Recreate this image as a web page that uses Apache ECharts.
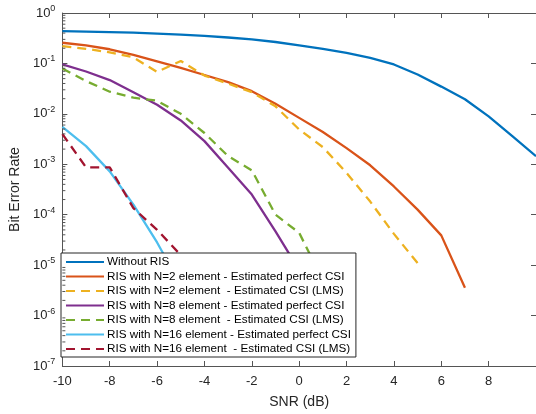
<!DOCTYPE html>
<html>
<head>
<meta charset="utf-8">
<script src="https://cdn.jsdelivr.net/npm/echarts@6/dist/echarts.min.js"></script>
<style>
html,body{margin:0;padding:0;background:#fff;}
#chart{width:536px;height:414px;}
</style>
</head>
<body>
<div id="chart"></div>
<script>
// SNR (dB) sample points
const snr = [-10, -9, -8, -7, -6, -5, -4, -3, -2, -1, 0, 1, 2, 3, 4, 5, 6, 7, 8, 9, 10];

// Bit error rate values
const berWithoutRIS = [0.437, 0.427, 0.417, 0.407, 0.389, 0.372, 0.351, 0.327, 0.299, 0.266, 0.229,
  0.195, 0.162, 0.129, 0.0955, 0.0603, 0.0347, 0.0195, 0.0089, 0.00363, 0.00145];
const berN2Perfect = [0.257, 0.229, 0.191, 0.148, 0.110, 0.0813, 0.0589, 0.0427, 0.0282, 0.0158, 0.00832,
  0.00437, 0.00209, 9.55e-4, 3.63e-4, 1.26e-4, 3.89e-5, 3.55e-6];
const berN2LMS = [0.221, 0.195, 0.166, 0.132, 0.0676, 0.112, 0.0575, 0.0398, 0.0269, 0.0141, 0.0049,
  0.00219, 6.76e-4, 1.82e-4, 4.17e-5, 1.10e-5];
const berN8Perfect = [0.0955, 0.0692, 0.0468, 0.0269, 0.0151, 0.00741, 0.00288, 8.51e-4, 2.51e-4, 4.68e-5, 7.94e-6];
const berN8LMS = [0.0794, 0.0447, 0.0275, 0.0209, 0.0182, 0.0100, 0.00417, 0.00145, 7.59e-4, 1.0e-4, 4.37e-5, 5.0e-6];
const berN16Perfect = [0.0055, 0.00229, 7.24e-4, 1.58e-4, 2.82e-5, 4.0e-6];
const berN16LMS = [0.00398, 8.71e-4, 8.71e-4, 1.35e-4, 5.01e-5, 1.58e-5];

// minor tick values of the log axis (2..9 x 10^k)
const minorTickValues = [];
[-7, -6, -5, -4, -3, -2, -1].forEach(k => {
  [2, 3, 4, 5, 6, 7, 8, 9].forEach(m => minorTickValues.push(m * Math.pow(10, k)));
});

const seriesNames = [
  'Without RIS',
  'RIS with N=2 element - Estimated perfect CSI',
  'RIS with N=2 element  - Estimated CSI (LMS)',
  'RIS with N=8 element - Estimated perfect CSI',
  'RIS with N=8 element  - Estimated CSI (LMS)',
  'RIS with N=16 element - Estimated perfect CSI',
  'RIS with N=16 element  - Estimated CSI (LMS)'
];
const seriesValues = [berWithoutRIS, berN2Perfect, berN2LMS, berN8Perfect, berN8LMS, berN16Perfect, berN16LMS];
const seriesColors = ['#0072BD', '#D95319', '#EDB120', '#7E2F8E', '#77AC30', '#4DBEEE', '#A2142F'];
const seriesDashed = [false, false, true, false, true, false, true];

const axisColor = '#262626';
const frameColor = '#555555';
const font = 'Liberation Sans, Arial, Helvetica, sans-serif';

const chart = echarts.init(document.getElementById('chart'), null, {renderer: 'canvas'});

const series = seriesNames.map((name, i) => ({
  name: name,
  type: 'line',
  xAxisIndex: 0,
  yAxisIndex: 0,
  data: seriesValues[i].map((v, k) => [snr[k], v]),
  showSymbol: false,
  symbol: 'none',
  smooth: false,
  clip: true,
  lineStyle: {
    color: seriesColors[i],
    width: 2.3,
    type: seriesDashed[i] ? [9, 6] : 'solid'
  },
  itemStyle: {color: seriesColors[i]},
  emphasis: {disabled: true}
}));

// minor ticks on the left log axis
series.push({
  name: 'minorTicks',
  type: 'custom',
  xAxisIndex: 0,
  yAxisIndex: 0,
  silent: true,
  clip: false,
  z: 5,
  data: minorTickValues.map(v => [-10, v]),
  renderItem: function (params, api) {
    const p = api.coord([api.value(0), api.value(1)]);
    return {
      type: 'line',
      shape: {x1: p[0], y1: p[1], x2: p[0] + 3, y2: p[1]},
      style: {stroke: frameColor, lineWidth: 1}
    };
  }
});

function expLabel(v) {
  const e = Math.round(Math.log10(v));
  return '{b|10}{s|' + e + '}';
}

const option = {
  animation: false,
  backgroundColor: '#ffffff',
  textStyle: {fontFamily: font},
  grid: {left: 58, top: 13, right: -4, bottom: 41, containLabel: false},
  legend: {
    orient: 'vertical',
    left: 61,
    top: 253,
    width: 300,
    backgroundColor: '#ffffff',
    borderColor: axisColor,
    borderWidth: 1,
    padding: [3, 5, 2, 4],
    itemWidth: 38,
    itemHeight: 14,
    itemGap: 2.5,
    itemStyle: {opacity: 0},
    textStyle: {fontFamily: font, fontSize: 11.7, color: '#000', padding: [0, 0, 0, -2]},
    data: seriesNames
  },
  xAxis: [{
    type: 'value',
    position: 'bottom',
    min: -10,
    max: 10,
    interval: 2,
    name: 'SNR (dB)',
    nameLocation: 'middle',
    nameGap: 29,
    nameTextStyle: {fontFamily: font, fontSize: 14, color: axisColor},
    axisLine: {show: true, onZero: false, lineStyle: {color: frameColor, width: 1}},
    axisTick: {show: true, inside: true, length: 5, lineStyle: {color: frameColor}},
    axisLabel: {fontFamily: font, fontSize: 13, color: axisColor, margin: 9, showMaxLabel: false},
    splitLine: {show: false}
  }, {
    type: 'value',
    position: 'top',
    min: -10,
    max: 10,
    interval: 2,
    axisLine: {show: true, onZero: false, lineStyle: {color: frameColor, width: 1}},
    axisTick: {show: true, inside: true, length: 5, lineStyle: {color: frameColor}},
    axisLabel: {show: false},
    splitLine: {show: false}
  }],
  yAxis: [{
    type: 'log',
    logBase: 10,
    position: 'left',
    min: 1e-7,
    max: 1,
    splitNumber: 7,
    name: 'Bit Error Rate',
    nameLocation: 'middle',
    nameGap: 36,
    nameTextStyle: {fontFamily: font, fontSize: 14, color: axisColor},
    axisLine: {show: true, onZero: false, lineStyle: {color: frameColor, width: 1}},
    axisTick: {show: true, inside: true, length: 5, lineStyle: {color: frameColor}},
    axisLabel: {
      margin: 7,
      formatter: expLabel,
      rich: {
        b: {fontFamily: font, fontSize: 13, color: axisColor},
        s: {fontFamily: font, fontSize: 9, color: axisColor, padding: [0, 0, 9, 0]}
      }
    },
    splitLine: {show: false}
  }, {
    type: 'log',
    logBase: 10,
    position: 'right',
    min: 1e-7,
    max: 1,
    splitNumber: 7,
    axisLine: {show: true, onZero: false, lineStyle: {color: frameColor, width: 1}},
    axisTick: {show: true, inside: true, length: 5, lineStyle: {color: frameColor}},
    axisLabel: {show: false},
    splitLine: {show: false}
  }],
  series: series
};

chart.setOption(option);
</script>
</body>
</html>
